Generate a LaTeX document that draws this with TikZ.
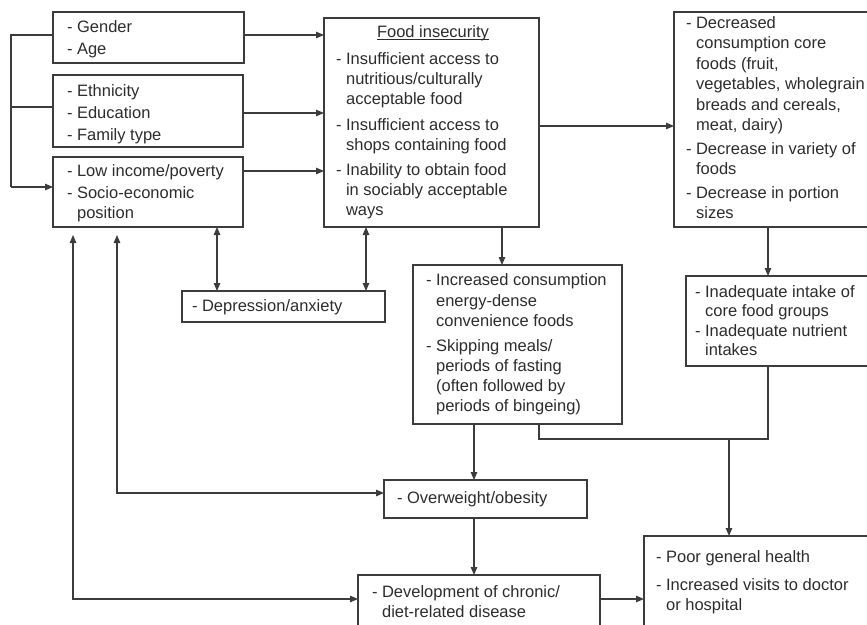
\documentclass[tikz,border=0pt]{standalone}
\usepackage{fontspec}
\setmainfont{Liberation Sans}
\usetikzlibrary{arrows.meta}
\definecolor{ln}{RGB}{60,60,60}
\definecolor{tx}{RGB}{45,45,45}
\newcommand\ind{\hphantom{- }}
\newcommand\fsz{\fontsize{16.5}{20}\selectfont}
\tikzset{
  box/.style={draw=ln, line width=1.2pt, rectangle, inner sep=0pt, outer sep=0pt, anchor=north west},
  txt/.style={anchor=north west, inner sep=0pt, outer sep=0pt, align=left, font=\fsz, text=tx},
  conn/.style={draw=ln, line width=1.2pt},
  arr/.style={conn, -{Triangle[length=8pt,width=6.5pt]}},
  darr/.style={conn, {Triangle[length=8pt,width=6.5pt]}-{Triangle[length=8pt,width=6.5pt]}}
}
\begin{document}
\begin{tikzpicture}[x=1pt,y=-1pt]
\useasboundingbox (0,0) rectangle (867,624);
\clip (0,0) rectangle (867,624);
\fill[white] (0,0) rectangle (867,624);
% boxes
\node[box, minimum width=191, minimum height=51] (gender) at (53,12) {};
\node[box, minimum width=190, minimum height=72] (ethn) at (53,75) {};
\node[box, minimum width=190, minimum height=70] (lowinc) at (53,157) {};
\node[box, minimum width=215, minimum height=209] (food) at (324,18) {};
\node[box, minimum width=260, minimum height=215] (decr) at (674,12) {};
\node[box, minimum width=250, minimum height=90] (inad) at (686,276) {};
\node[box, minimum width=209, minimum height=159] (incr) at (413,265) {};
\node[box, minimum width=203, minimum height=31] (depr) at (182,291) {};
\node[box, minimum width=203, minimum height=38] (over) at (384,480) {};
\node[box, minimum width=242, minimum height=80] (devel) at (358,575) {};
\node[box, minimum width=250, minimum height=120] (poor) at (644,536) {};
% texts
\node[txt] (gendert) at (67,18) {\strut- Gender\\[2pt]- Age};
\node[txt] (ethnt) at (67,82) {\strut- Ethnicity\\[2pt]- Education\\[2pt]- Family type};
\node[txt] (lowinct) at (67,162) {\strut- Low income/poverty\\[2pt]- Socio-economic\\\ind position};
\node[anchor=base, inner sep=0pt, font=\fsz, text=tx] (title) at (433,37) {Food insecurity};
\draw[draw=tx, line width=0.9pt] ([yshift=-2.2pt]title.base west) -- ([yshift=-2.2pt]title.base east);
\node[txt] (foodt) at (336,50) {\strut- Insufficient access to\\\ind nutritious/culturally\\\ind acceptable food\\[6pt]- Insufficient access to\\\ind shops containing food\\[5pt]- Inability to obtain food\\\ind in sociably acceptable\\\ind ways};
\node[txt] (decrt) at (686,14) {\strut- Decreased\\[0.5pt]\ind consumption core\\[0.5pt]\ind foods (fruit,\\[0.5pt]\ind vegetables, wholegrain\\[0.5pt]\ind breads and cereals,\\[0.5pt]\ind meat, dairy)\\[3.5pt]- Decrease in variety of\\[0.5pt]\ind foods\\[3.5pt]- Decrease in portion\\[0.5pt]\ind sizes};
\node[txt] (inadt) at (695,283) {\strut- Inadequate intake of\\[-0.5pt]\ind core food groups\\[-0.5pt]- Inadequate nutrient\\[-0.5pt]\ind intakes};
\node[txt] (incrt) at (426,271) {\strut- Increased consumption\\[1pt]\ind energy-dense\\\ind convenience foods\\[5pt]- Skipping meals/\\\ind periods of fasting\\\ind (often followed by\\\ind periods of bingeing)};
\node[txt] (deprt) at (192,297) {\strut- Depression/anxiety};
\node[txt] (overt) at (397,489) {\strut- Overweight/obesity};
\node[txt] (develt) at (372,583) {\strut- Development of chronic/\\\ind diet-related disease};
\node[txt] (poort) at (656,548) {\strut- Poor general health\\[8pt]- Increased visits to doctor\\\ind or hospital};
% helper coordinates
\coordinate (bk1) at (11,35);
\coordinate (bk2) at (11,107);
\coordinate (bk3) at (11,187);
\coordinate (r2) at (0,113);
\coordinate (r3) at (0,171);
\coordinate (r4) at (0,126);
\coordinate (x768) at (768,0);
\coordinate (x502) at (502,0);
\coordinate (x217) at (217,0);
\coordinate (x366) at (366,0);
\coordinate (u1) at (117,493);
\coordinate (u2) at (73,599);
\coordinate (x474) at (474,0);
\coordinate (j1) at (539,439);
\coordinate (j2) at (768,439);
\coordinate (j3) at (729,439);
% connectors
\draw[conn] (gender.west |- bk1) -- (bk1) -- (bk3);
\draw[arr] (bk3) -- (lowinc.west |- bk3);
\draw[conn] (ethn.west |- bk2) -- (bk2);
\draw[arr] (gender.east |- bk1) -- (food.west |- bk1);
\draw[arr] (ethn.east |- r2) -- (food.west |- r2);
\draw[arr] (lowinc.east |- r3) -- (food.west |- r3);
\draw[arr] (food.east |- r4) -- (decr.west |- r4);
\draw[arr] (decr.south -| x768) -- (inad.north -| x768);
\draw[arr] (food.south -| x502) -- (incr.north -| x502);
\draw[darr] (lowinc.south -| x217) -- (depr.north -| x217);
\draw[darr] (food.south -| x366) -- (depr.north -| x366);
\draw[darr, shorten <=8pt] (lowinc.south -| u1) -- (u1) -- (over.west |- u1);
\draw[darr, shorten <=8pt] (lowinc.south -| u2) -- (u2) -- (devel.west |- u2);
\draw[arr] (incr.south -| x474) -- (over.north -| x474);
\draw[arr] (over.south -| x474) -- (devel.north -| x474);
\draw[arr] (devel.east |- u2) -- (poor.west |- u2);
\draw[conn] (incr.south -| j1) -- (j1) -- (j2) -- (inad.south -| j2);
\draw[arr] (j3) -- (poor.north -| j3);
\end{tikzpicture}
\end{document}
